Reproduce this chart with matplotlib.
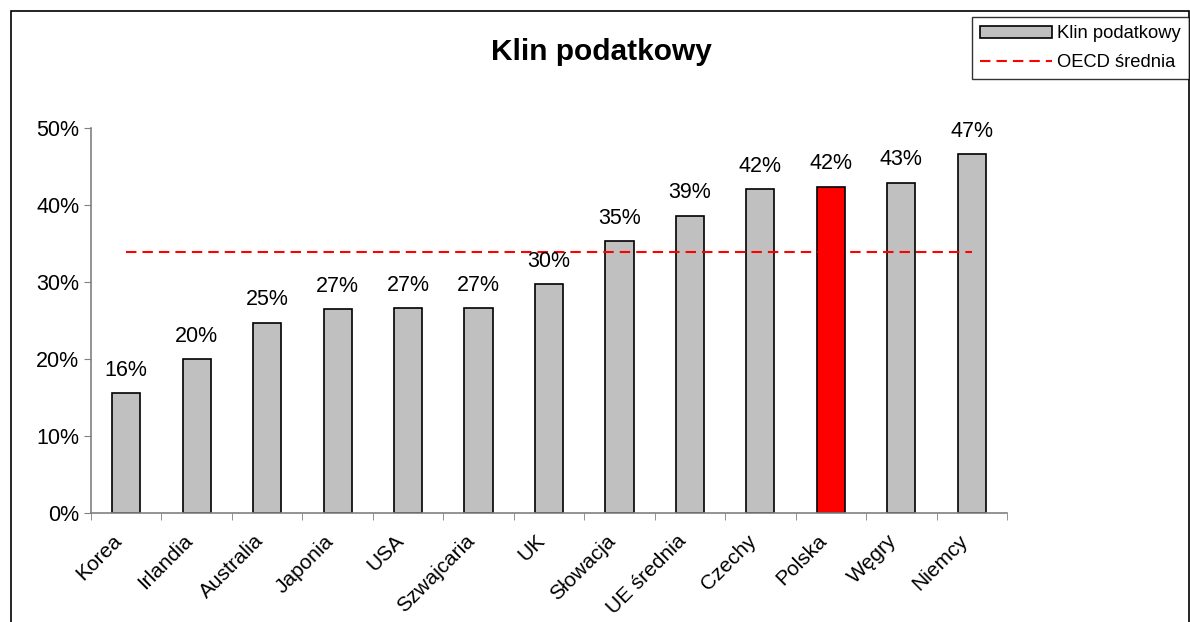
import matplotlib.pyplot as plt
import numpy as np
from matplotlib.patches import Rectangle
from matplotlib.transforms import ScaledTranslation
from matplotlib.ticker import PercentFormatter, FixedLocator, NullFormatter

plt.rcParams['font.family'] = ['Liberation Sans', 'DejaVu Sans']

# Data
countries = ['Korea', 'Irlandia', 'Australia', 'Japonia', 'USA', 'Szwajcaria', 'UK',
             'Słowacja', 'UE średnia', 'Czechy', 'Polska', 'Węgry', 'Niemcy']
wedge = [15.6, 20.0, 24.7, 26.5, 26.6, 26.6, 29.7, 35.3, 38.6, 42.1, 42.4, 42.9, 46.6]
oecd_avg = 33.9
highlight = 'Polska'

fig = plt.figure(figsize=(11.9, 6.22), dpi=100)
ax = fig.add_axes([91 / 1190, 1 - 513 / 622, (1007 - 91) / 1190, (513 - 128) / 622])

x = np.arange(len(countries))
colors = ['#ff0000' if c == highlight else '#c0c0c0' for c in countries]
bars = ax.bar(x, wedge, width=0.4, color=colors, edgecolor='black', linewidth=1.2)
line, = ax.plot(x, [oecd_avg] * len(x), color='red', linestyle=(0, (5, 2.9)), linewidth=1.5)

for xi, v in zip(x, wedge):
    ax.text(xi, v + 1.6, f'{int(v + 0.5)}%', ha='center', va='bottom', fontsize=15.5)

ax.set_xlim(-0.5, len(countries) - 0.5)
ax.set_ylim(0, 50)
ax.set_yticks(range(0, 51, 10))
ax.yaxis.set_major_formatter(PercentFormatter(decimals=0))
ax.set_xticks(x)
ax.set_xticklabels(countries, rotation=45, ha='right', va='center',
                   rotation_mode='anchor', fontsize=15)
ax.tick_params(axis='x', length=0, pad=18)
shift = ScaledTranslation(-7 / 100, 0, fig.dpi_scale_trans)
for lbl in ax.get_xticklabels():
    lbl.set_transform(lbl.get_transform() + shift)
ax.xaxis.set_minor_locator(FixedLocator(np.arange(-0.5, len(countries), 1)))
ax.xaxis.set_minor_formatter(NullFormatter())
ax.tick_params(axis='x', which='minor', length=5, color='#808080', direction='out')
ax.tick_params(axis='y', length=5, color='#808080', labelsize=15.5, direction='out')
for s in ['top', 'right']:
    ax.spines[s].set_visible(False)
for s in ['left', 'bottom']:
    ax.spines[s].set_color('#808080')
    ax.spines[s].set_linewidth(1.2)

fig.text(601 / 1190, 1 - 52 / 622, 'Klin podatkowy', ha='center', va='center',
         fontsize=21.5, fontweight='bold')

leg = fig.legend([bars, line], ['Klin podatkowy', 'OECD średnia'],
                 loc='upper right', bbox_to_anchor=(1189 / 1190, 1 - 17 / 622),
                 fontsize=13.2, frameon=True, fancybox=False, borderaxespad=0,
                 handlelength=3.9, handleheight=0.6, handletextpad=0.3,
                 borderpad=0.45, labelspacing=0.65)
leg.get_frame().set_edgecolor('black')
leg.get_frame().set_linewidth(1.0)

fig.patches.append(Rectangle((11 / 1190, -0.05), (1189 - 11) / 1190, 1 - 11 / 622 + 0.05,
                             transform=fig.transFigure, fill=False, edgecolor='black',
                             linewidth=1.2))

fig.savefig('out.png', dpi=100)
